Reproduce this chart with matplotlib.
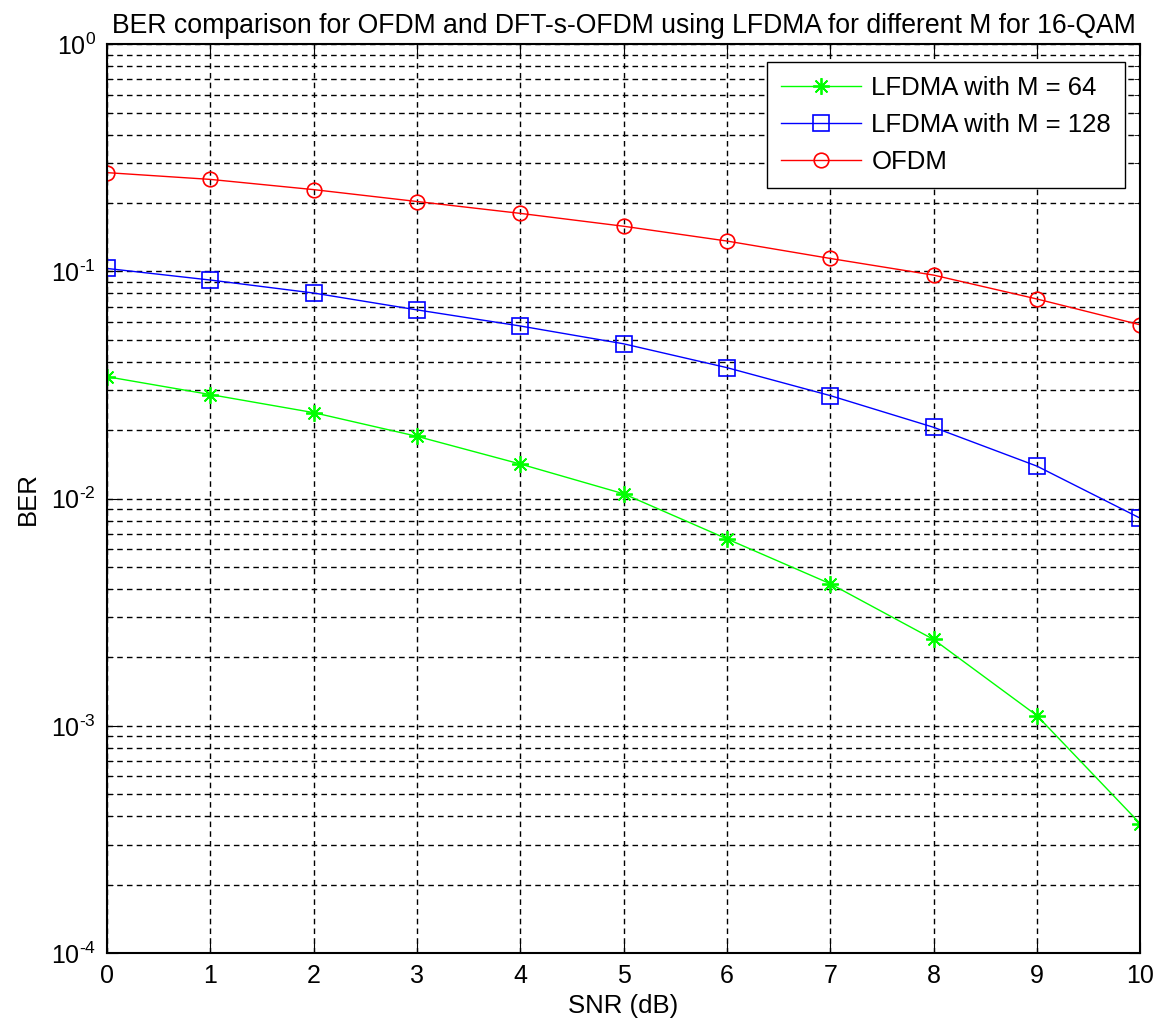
import numpy as np
import matplotlib
matplotlib.use('Agg')
import matplotlib.pyplot as plt
from matplotlib.ticker import LogLocator, NullFormatter, FuncFormatter

plt.rcParams['font.family'] = ['Liberation Sans', 'DejaVu Sans']
plt.rcParams['mathtext.fontset'] = 'custom'
plt.rcParams['mathtext.rm'] = 'Liberation Sans'
plt.rcParams['mathtext.it'] = 'Liberation Sans'

# 数据：SNR (dB) 与各方案的 BER
snr_db = [0, 1, 2, 3, 4, 5, 6, 7, 8, 9, 10]
ber_lfdma_64 = [0.0344, 0.0287, 0.0239, 0.0188, 0.0142, 0.0105,
                0.00665, 0.00422, 0.0024, 0.00111, 0.000371]
ber_lfdma_128 = [0.103, 0.0916, 0.0803, 0.0677, 0.0575, 0.048,
                 0.0377, 0.0284, 0.0206, 0.0139, 0.0082]
ber_ofdm = [0.272, 0.254, 0.229, 0.203, 0.180, 0.158,
            0.136, 0.114, 0.0963, 0.0756, 0.0582]


def log_label(v, pos):
    """MATLAB 风格的 10^n 标签（上标用短横线）"""
    e = int(round(np.log10(v)))
    if e < 0:
        return r'$\mathregular{10^{\text{-}%d}}$' % (-e)
    return r'$\mathregular{10^{%d}}$' % e


fig = plt.figure(figsize=(11.57, 10.27), dpi=100)
ax = fig.add_axes([0.0925, 0.072, 0.893, 0.885])

ax.semilogy(snr_db, ber_lfdma_64, color='#00ff00', marker=(8, 2, 0), markersize=12,
            markeredgewidth=1.3, linewidth=1, label='LFDMA with M = 64')
ax.semilogy(snr_db, ber_lfdma_128, color='blue', marker='s', markersize=11,
            markerfacecolor='none', markeredgewidth=1.2, linewidth=1,
            label='LFDMA with M = 128')
ax.semilogy(snr_db, ber_ofdm, color='red', marker='o', markersize=10.5,
            markerfacecolor='none', markeredgewidth=1.2, linewidth=1, label='OFDM')

ax.set_xlim(0, 10)
ax.set_ylim(1e-4, 1e0)
ax.set_xticks(range(0, 11))
ax.yaxis.set_major_locator(LogLocator(base=10, numticks=10))
ax.yaxis.set_major_formatter(FuncFormatter(log_label))
ax.yaxis.set_minor_locator(LogLocator(base=10, subs=np.arange(2, 10), numticks=20))
ax.yaxis.set_minor_formatter(NullFormatter())

# MATLAB 风格的虚线网格
ax.grid(True, which='major', color='black', linestyle=(0, (4, 3)), linewidth=1)
ax.grid(True, which='minor', axis='y', color='black', linestyle=(0, (4, 3)), linewidth=1)
ax.tick_params(which='both', direction='in', top=True, right=True, labelsize=18)
ax.tick_params(which='major', length=8, pad=8)
ax.tick_params(which='minor', length=4)
for s in ax.spines.values():
    s.set_linewidth(1.5)

ax.set_xlabel('SNR (dB)', fontsize=18.5, labelpad=4)
ax.set_ylabel('BER', fontsize=18.5, labelpad=8)
ax.set_title('BER comparison for OFDM and DFT-s-OFDM using LFDMA for different M for 16-QAM',
             fontsize=19.2, pad=8)

leg = ax.legend(loc='upper right', bbox_to_anchor=(0.9855, 0.980), borderaxespad=0,
                fontsize=18.5, fancybox=False, framealpha=1, edgecolor='black',
                handlelength=3.1, handletextpad=0.4, labelspacing=0.5, borderpad=0.55)
leg.get_frame().set_linewidth(1)

plt.savefig('out.png', dpi=100)
